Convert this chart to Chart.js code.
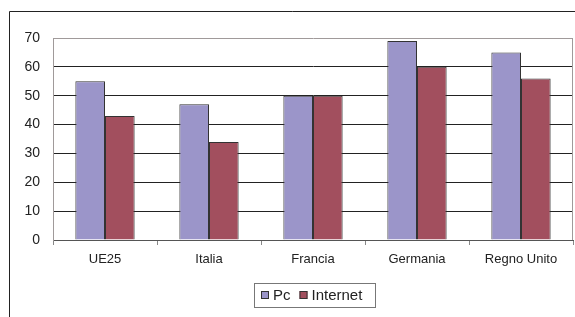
<!DOCTYPE html>
<html>
<head>
<meta charset="utf-8">
<script src="https://cdn.jsdelivr.net/npm/chart.js@4"></script>
<style>
  html, body { margin: 0; padding: 0; background: #fff; }
  #wrap { position: relative; width: 575px; height: 317px; }
</style>
</head>
<body>
<div id="wrap"><canvas id="chart" width="575" height="317"></canvas></div>
<script>
// data
const categories = ["UE25", "Italia", "Francia", "Germania", "Regno Unito"];
const pcValues = [55, 47, 50, 69, 65];
const internetValues = [43, 34, 50, 60, 56];
const seriesNames = ["Pc", "Internet"];
const yTicks = [0, 10, 20, 30, 40, 50, 60, 70];

const pcColor = "#9b95c9";
const internetColor = "#a24f5e";
const edgeColor = "#333333";

// outer frame of the chart object (runs off the right/bottom edge) + right edge of plot area
const framePlugin = {
  id: "frame",
  beforeDraw(chart) {
    const ctx = chart.ctx;
    ctx.save();
    ctx.fillStyle = "#fff";
    ctx.fillRect(0, 0, chart.width, chart.height);
    ctx.strokeStyle = "#222";
    ctx.lineWidth = 1;
    ctx.beginPath();
    ctx.moveTo(9.5, chart.height + 5);
    ctx.lineTo(9.5, 11.5);
    ctx.lineTo(chart.width + 5, 11.5);
    ctx.stroke();
    ctx.restore();
  },
  afterDatasetsDraw(chart) {
    const a = chart.chartArea;
    const ctx = chart.ctx;
    ctx.save();
    ctx.strokeStyle = "#a09a9a";
    ctx.lineWidth = 1;
    ctx.beginPath();
    ctx.moveTo(Math.round(a.right) - 0.5, a.top);
    ctx.lineTo(Math.round(a.right) - 0.5, a.bottom);
    ctx.stroke();
    ctx.restore();
  }
};

// legend with a box round it, like the original
const boxLegend = {
  id: "boxLegend",
  afterDraw(chart) {
    const ctx = chart.ctx;
    ctx.save();
    ctx.strokeStyle = "#777";
    ctx.lineWidth = 1;
    ctx.strokeRect(254.5, 283.5, 121, 24);
    ctx.font = "15px 'Liberation Sans', Arial, sans-serif";
    ctx.textBaseline = "middle";
    ctx.fillStyle = "#222";
    let x = 261;
    chart.data.datasets.forEach(ds => {
      ctx.fillStyle = ds.backgroundColor;
      ctx.fillRect(x, 291, 8, 8);
      ctx.strokeStyle = edgeColor;
      ctx.strokeRect(x + 0.5, 291.5, 7, 7);
      ctx.fillStyle = "#222";
      ctx.fillText(ds.label, x + 12, 296);
      x += 12 + ctx.measureText(ds.label).width + 9;
    });
    ctx.restore();
  }
};

new Chart(document.getElementById("chart"), {
  type: "bar",
  data: {
    labels: categories,
    datasets: [
      {
        label: seriesNames[0],
        data: pcValues,
        backgroundColor: pcColor,
        borderColor: edgeColor,
        borderWidth: 1
      },
      {
        label: seriesNames[1],
        data: internetValues,
        backgroundColor: internetColor,
        borderColor: edgeColor,
        borderWidth: 1
      }
    ]
  },
  options: {
    responsive: false,
    animation: false,
    categoryPercentage: 0.57,
    barPercentage: 1.0,
    layout: { padding: { top: 38, right: 2, left: 0, bottom: 47 } },
    plugins: {
      legend: { display: false },
      tooltip: { enabled: false }
    },
    scales: {
      x: {
        grid: {
          offset: true,
          drawOnChartArea: false,
          drawTicks: true,
          tickLength: 5,
          color: "#888"
        },
        border: { color: "#555" },
        ticks: {
          color: "#222",
          font: { family: "'Liberation Sans', Arial, sans-serif", size: 13 },
          padding: 7,
          maxRotation: 0
        },
        afterFit(scale) { scale.height = 30; }
      },
      y: {
        min: 0,
        max: 70,
        afterBuildTicks(scale) {
          scale.ticks = yTicks.map(v => ({ value: v }));
        },
        grid: {
          drawTicks: false,
          color: ctx => ctx.tick && ctx.tick.value === 70 ? "#a09a9a" : "#222"
        },
        border: { color: "#a09a9a" },
        ticks: {
          color: "#222",
          font: { family: "'Liberation Sans', Arial, sans-serif", size: 14 },
          padding: 13
        },
        afterFit(scale) { scale.width = 53; }
      }
    }
  },
  plugins: [framePlugin, boxLegend]
});
</script>
</body>
</html>
